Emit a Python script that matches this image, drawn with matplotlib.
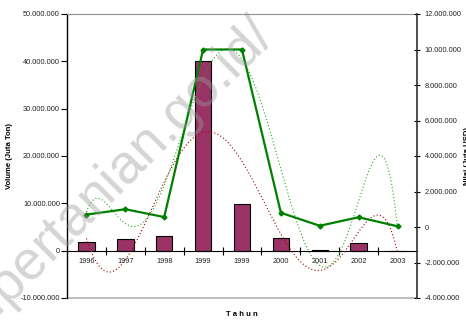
import numpy as np
import matplotlib
matplotlib.use("Agg")
import matplotlib.pyplot as plt
from matplotlib.ticker import FuncFormatter, FixedLocator

plt.rcParams['font.family'] = ['Liberation Sans', 'DejaVu Sans']

# Data
years = ['1996', '1997', '1998', '1999', '1999', '2000', '2001', '2002', '2003']
volume = [1.9e6, 2.5e6, 3.0e6, 40.1e6, 9.9e6, 2.7e6, 0.2e6, 1.6e6, 0.0]      # Juta Ton
value = [0.7e6, 1.0e6, 0.56e6, 10.0e6, 10.0e6, 0.8e6, 0.07e6, 0.55e6, 0.04e6]  # Juta USD
trend_order = 6

W, H = 466, 323


def dotted_thousands(v, pos=None):
    return format(int(round(v)), ',').replace(',', '.')


fig = plt.figure(figsize=(W / 100, H / 100), dpi=100)
ax = fig.add_axes([67 / W, 25 / H, 350 / W, 284 / H])
ax2 = ax.twinx()

x = np.arange(1, len(years) + 1)
fine = np.linspace(x[0], x[-1], 400)

# Volume bars + polynomial trend
ax.bar(x, volume, width=0.42, color='#993366', edgecolor='black', linewidth=0.8, zorder=2)
pv = np.polyfit(x, volume, trend_order)
ax.plot(fine, np.polyval(pv, fine), color='#a00000', lw=0.8, ls=(0, (1, 2)), zorder=3)

# Value line + polynomial trend
ax2.plot(x, value, color='#008000', lw=1.6, marker='D', ms=2.5, zorder=3)
pn = np.polyfit(x, value, trend_order)
ax2.plot(fine, np.polyval(pn, fine), color='#22aa22', lw=0.8, ls=(0, (1, 2)), zorder=2)

ax.set_xlim(0.5, len(years) + 0.5)
ax.set_ylim(-10e6, 50e6)
ax2.set_ylim(-4e6, 12e6)

# Spines
ax.spines['bottom'].set_position(('data', 0))
ax.spines['bottom'].set_color('black')
ax.spines['left'].set_color('black')
ax.spines['left'].set_linewidth(1.0)
ax.spines['top'].set_color('#909090')
ax.spines['right'].set_visible(False)
for s in ['left', 'top', 'bottom']:
    ax2.spines[s].set_visible(False)
ax2.spines['right'].set_color('#303030')
ax2.spines['right'].set_linewidth(1.2)
ax.plot([0, 1], [0, 0], transform=ax.transAxes, color='#b0b0b0', lw=1.2, clip_on=False)

# Ticks
ax.set_yticks(np.arange(-10e6, 50e6 + 1, 10e6))
ax.yaxis.set_major_formatter(FuncFormatter(dotted_thousands))
ax.tick_params(axis='y', direction='out', length=4, width=0.8, pad=1, labelsize=5.3,
               colors='black', labelcolor='#222222')

ax2.set_yticks(np.arange(-4e6, 12e6 + 1, 2e6))
ax2.yaxis.set_major_formatter(FuncFormatter(dotted_thousands))
ax2.tick_params(axis='y', direction='inout', length=5, width=0.8, pad=3, labelsize=5.3,
                labelcolor='#222222')

ax.set_xticks(x)
ax.set_xticklabels(years)
ax.tick_params(axis='x', length=0, pad=5, labelsize=5.3, labelcolor='#222222')
ax.xaxis.set_minor_locator(FixedLocator(np.arange(1.5, len(years), 1.0)))
ax.tick_params(axis='x', which='minor', direction='inout', length=6, width=0.8)

# Labels
ax.set_ylabel('Volume (Juta Ton)', fontsize=5.6, fontweight='bold')
ax.yaxis.set_label_coords(-0.154, 0.5)
ax2.set_ylabel('Nilai (Juta USD)', fontsize=5.6, fontweight='bold', rotation=90)
ax2.yaxis.set_label_coords(1.135, 0.5)
ax.set_xlabel('T a h u n', fontsize=5.6, fontweight='bold')
ax.xaxis.set_label_coords(0.5, -0.045)

# Watermark, running diagonally up to the right at 45 degrees
wm_px, wm_py = -84, H - 400   # left end of the baseline, in figure pixels
fig.text(wm_px / W, wm_py / H, 'www.pertanian.go.id/', fontsize=39.5, rotation=45,
         rotation_mode='anchor', ha='left', va='baseline',
         color='#9a9a9a', alpha=0.42, zorder=10)

fig.savefig('out.png', dpi=100)
